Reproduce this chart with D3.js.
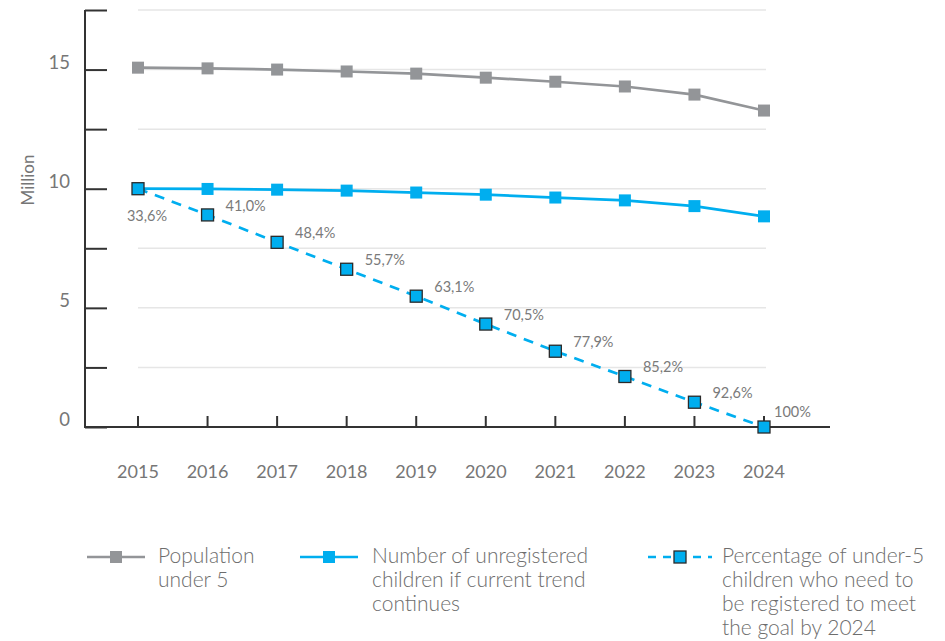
<!DOCTYPE html>
<html>
<head>
<meta charset="utf-8">
<script src="https://cdn.jsdelivr.net/npm/d3@7"></script>
<style>
  body { margin: 0; background: #fff; }
  svg { display: block; font-family: Lato, "Open Sans", sans-serif; }
</style>
</head>
<body>
<svg id="chart" width="945" height="641"></svg>
<script>
// values
var years       = ["2015","2016","2017","2018","2019","2020","2021","2022","2023","2024"];
var population  = [15.08, 15.05, 15.0, 14.92, 14.83, 14.66, 14.49, 14.29, 13.95, 13.28];
var unregTrend  = [10.0, 9.99, 9.96, 9.92, 9.84, 9.75, 9.63, 9.51, 9.27, 8.84];
var unregGoal   = [10.0, 8.9, 7.75, 6.62, 5.49, 4.32, 3.18, 2.12, 1.04, 0];
var goalLabels  = ["33,6%","41,0%","48,4%","55,7%","63,1%","70,5%","77,9%","85,2%","92,6%","100%"];
var yTicks      = [0, 2.5, 5, 7.5, 10, 12.5, 15, 17.5];
var yLabelTicks = [0, 5, 10, 15];

var GREY = "#939598", BLUE = "#00aeef", AXIS = "#333";

var svg = d3.select("#chart");

var x = d3.scaleLinear().domain([0, years.length - 1]).range([138, 764]);
var y = d3.scaleLinear().domain([0, 17.5]).range([427, 10]);

// gridlines
svg.append("g").selectAll("line")
	.data(yTicks.filter(function (d) { return d > 0; }))
	.join("line")
	.attr("x1", 138).attr("x2", 766)
	.attr("y1", function (d) { return y(d); })
	.attr("y2", function (d) { return y(d); })
	.attr("stroke", "#e6e6e6").attr("stroke-width", 1.5);

// y axis: ticks pointing inward, labels only on whole fives
var yAxis = svg.append("g").attr("transform", "translate(85,0)")
	.call(d3.axisRight(y).tickValues(yTicks).tickSize(22).tickFormat(""));
yAxis.select(".domain").attr("d", "M0," + y(17.5) + "V" + y(0));
yAxis.selectAll("path, line").attr("stroke", AXIS).attr("stroke-width", 2);

svg.append("g").selectAll("text")
	.data(yLabelTicks)
	.join("text")
	.attr("x", 70).attr("y", function (d) { return y(d) - 1; })
	.attr("text-anchor", "end")
	.attr("font-size", 18.5).attr("fill", "#767676")
	.text(function (d) { return d; });

svg.append("text")
	.attr("transform", "translate(34,180) rotate(-90)")
	.attr("text-anchor", "middle")
	.attr("font-size", 17).attr("fill", "#767676")
	.text("Million");

// x axis
svg.append("line")
	.attr("x1", 84).attr("x2", 830)
	.attr("y1", y(0)).attr("y2", y(0))
	.attr("stroke", AXIS).attr("stroke-width", 2);

svg.append("g").selectAll("line")
	.data(years)
	.join("line")
	.attr("x1", function (d, i) { return x(i); })
	.attr("x2", function (d, i) { return x(i); })
	.attr("y1", y(0)).attr("y2", y(0) - 11)
	.attr("stroke", AXIS).attr("stroke-width", 2);

svg.append("g").selectAll("text")
	.data(years)
	.join("text")
	.attr("x", function (d, i) { return x(i); })
	.attr("y", 478)
	.attr("text-anchor", "middle")
	.attr("font-size", 18).attr("fill", "#767676")
	.text(function (d) { return d; });

var line = d3.line()
	.x(function (d, i) { return x(i); })
	.y(function (d) { return y(d); });

function drawSeries(vals, colour, dash, outline)
{
	var g = svg.append("g");
	g.append("path")
		.datum(vals)
		.attr("d", line)
		.attr("fill", "none")
		.attr("stroke", colour)
		.attr("stroke-width", 2.7)
		.attr("stroke-dasharray", dash);
	g.selectAll("rect")
		.data(vals)
		.join("rect")
		.attr("x", function (d, i) { return x(i) - 6; })
		.attr("y", function (d) { return y(d) - 6; })
		.attr("width", 12).attr("height", 12)
		.attr("fill", colour)
		.attr("stroke", outline ? "#2a2a2a" : "none")
		.attr("stroke-width", 1.3);
}

drawSeries(population, GREY, null, false);
drawSeries(unregTrend, BLUE, null, false);
drawSeries(unregGoal, BLUE, "10,8", true);

// percentage labels: first sits under its point, last one tucked in closer
var last = goalLabels.length - 1;
svg.append("g").selectAll("text")
	.data(goalLabels)
	.join("text")
	.attr("x", function (d, i) { return i === 0 ? x(i) + 9 : x(i) + (i === last ? 10 : 18); })
	.attr("y", function (d, i) { return y(unregGoal[i]) + (i === 0 ? 32 : i === last ? -10 : -4); })
	.attr("text-anchor", function (d, i) { return i === 0 ? "middle" : "start"; })
	.attr("font-size", 14.5).attr("fill", "#7a7a7a")
	.text(function (d) { return d; });

// legend
var legend = [
	{ colour: GREY, dash: null, outline: false, x: 87, lines: ["Population", "under 5"] },
	{ colour: BLUE, dash: null, outline: false, x: 300, lines: ["Number of unregistered", "children if current trend", "continues"] },
	{ colour: BLUE, dash: "8,7", outline: true, x: 648, lines: ["Percentage of under-5", "children who need to", "be registered to meet", "the goal by 2024"] }
];

var lg = svg.append("g").selectAll("g").data(legend).join("g")
	.attr("transform", function (d) { return "translate(" + d.x + ",557)"; });

lg.append("line")
	.attr("x1", 0).attr("x2", function (d) { return d.dash ? 64 : 58; })
	.attr("stroke", function (d) { return d.colour; })
	.attr("stroke-width", 2.5)
	.attr("stroke-dasharray", function (d) { return d.dash; });

lg.append("rect")
	.attr("x", function (d) { return (d.dash ? 32 : 29) - 6; })
	.attr("y", -6).attr("width", 12).attr("height", 12)
	.attr("fill", function (d) { return d.colour; })
	.attr("stroke", function (d) { return d.outline ? "#2a2a2a" : "none"; })
	.attr("stroke-width", 1.3);

lg.append("text")
	.attr("x", function (d) { return d.dash ? 74 : (d.x === 87 ? 71 : 72); })
	.attr("y", 6)
	.attr("font-size", 21).attr("font-weight", 300).attr("fill", "#6d6d6d")
	.selectAll("tspan")
	.data(function (d) { return d.lines; })
	.join("tspan")
	.attr("x", function () { return d3.select(this.parentNode).attr("x"); })
	.attr("dy", function (d, i) { return i === 0 ? 0 : 24; })
	.text(function (d) { return d; });
</script>
</body>
</html>
